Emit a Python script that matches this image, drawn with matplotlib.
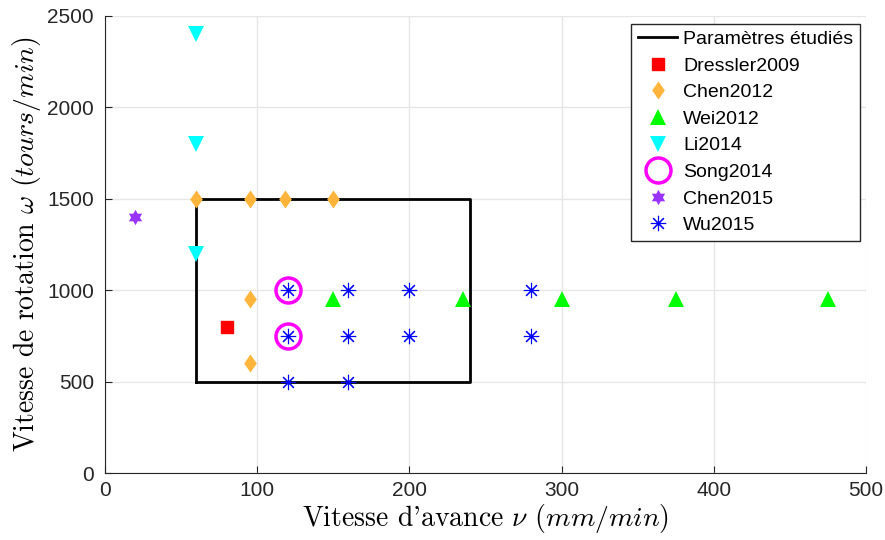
import numpy as np
import matplotlib
matplotlib.use("Agg")
import matplotlib.pyplot as plt
from matplotlib.path import Path

plt.rcParams['font.family'] = ['Liberation Sans', 'DejaVu Sans']
plt.rcParams['mathtext.fontset'] = 'cm'

# Studied parameter box (feed rate, rotation speed)
box_x = [60, 240, 240, 60, 60]
box_y = [500, 500, 1500, 1500, 500]

dressler_x = [80]
dressler_y = [800]

chen2012_x = [60, 95, 118, 150, 95, 95]
chen2012_y = [1500, 1500, 1500, 1500, 950, 600]

wei_x = [150, 235, 300, 375, 475]
wei_y = [950, 950, 950, 950, 950]

li_x = [60, 60, 60]
li_y = [2400, 1800, 1200]

song_x = [120, 120]
song_y = [1000, 750]

chen2015_x = [20]
chen2015_y = [1400]

wu_x = [120, 160, 200, 280, 120, 160, 200, 280, 120, 160]
wu_y = [1000, 1000, 1000, 1000, 750, 750, 750, 750, 500, 500]

xticks = [0, 100, 200, 300, 400, 500]
yticks = [0, 500, 1000, 1500, 2000, 2500]

# hexagram marker
ang_out = np.deg2rad(90 + 60 * np.arange(6))
ang_in = ang_out + np.deg2rad(30)
r_in = 1 / np.sqrt(3)
verts = []
for ao, ai in zip(ang_out, ang_in):
    verts.append((np.cos(ao), np.sin(ao)))
    verts.append((r_in * np.cos(ai), r_in * np.sin(ai)))
verts.append(verts[0])
hexagram = Path(verts, closed=True)

# MATLAB-like diamond (width ~0.7 of height)
diamond = Path([(0, 1), (0.7, 0), (0, -1), (-0.7, 0), (0, 1)], closed=True)

fig = plt.figure(figsize=(8.85, 5.4), dpi=100)
ax = fig.add_axes([0.1186, 0.124, 0.8599, 0.8464])

ax.plot(box_x, box_y, color='black', lw=2, label='Paramètres étudiés', zorder=2)
ax.plot(dressler_x, dressler_y, ls='none', marker='s', ms=8, color='#ff0000', label='Dressler2009', zorder=3)
ax.plot(chen2012_x, chen2012_y, ls='none', marker=diamond, ms=13, color='#ffb53c', mew=0, label='Chen2012', zorder=3)
ax.plot(wei_x, wei_y, ls='none', marker='^', ms=11, color='#00ff00', mew=0, label='Wei2012', zorder=3)
ax.plot(li_x, li_y, ls='none', marker='v', ms=11, color='#00ffff', mew=0, label='Li2014', zorder=3)
ax.plot(song_x, song_y, ls='none', marker='o', ms=18, mfc='none', mec='#ff00ff', mew=2.5, label='Song2014', zorder=3)
ax.plot(chen2015_x, chen2015_y, ls='none', marker=hexagram, ms=11, color='#9933ff', mew=0, label='Chen2015', zorder=3)
ax.plot(wu_x, wu_y, ls='none', marker=(8, 2, 0), ms=11, color='#0000ff', mew=0.8, label='Wu2015', zorder=4)

ax.set_xlim(0, 500)
ax.set_ylim(0, 2500)
ax.set_xticks(xticks)
ax.set_yticks(yticks)
ax.tick_params(direction='in', labelsize=15, length=5, color='#262626', labelcolor='#262626')
ax.tick_params(axis='x', pad=6)
ax.tick_params(axis='y', pad=8)
ax.grid(True, color='#e6e6e6', lw=1)
ax.set_axisbelow(True)
for s in ['top', 'right']:
    ax.spines[s].set_visible(False)
for s in ['left', 'bottom']:
    ax.spines[s].set_color('#262626')

ax.set_xlabel(r"Vitesse d'avance $\nu$ $(mm/min)$", fontfamily='cmr10', fontsize=20, labelpad=1)
ax.set_ylabel(r"Vitesse de rotation $\omega$ $(tours/min)$", fontfamily='cmr10', fontsize=20, labelpad=3)

leg = ax.legend(loc='upper right', bbox_to_anchor=(0.992, 0.983), fontsize=14, frameon=True, fancybox=False,
                edgecolor='#262626', framealpha=1, borderpad=0.35, labelspacing=0.46, handlelength=2.0,
                handletextpad=0.3, borderaxespad=0)
leg.get_frame().set_linewidth(1)

fig.savefig('out.png', dpi=100)
